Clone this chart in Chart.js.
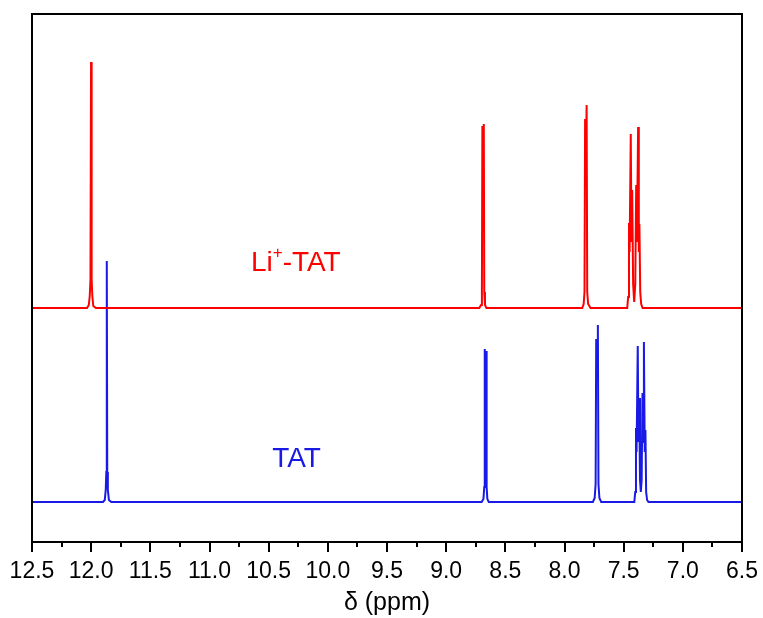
<!DOCTYPE html>
<html lang="en">
<head>
    <meta charset="UTF-8">
    <title>1H NMR: TAT and Li+-TAT</title>
    <style>
body {
    margin: 0;
    padding: 0;
    background-color: #fff;
}

#chart-container {
    width: 763px;
    height: 618px;
    position: relative;
}
    </style>
</head>
<body>
    <div id="chart-container">
        <canvas id="nmrChart"></canvas>
    </div>

    <script src="https://cdn.jsdelivr.net/npm/chart.js"></script>
    <script>
        // Li+-TAT spectrum (upper trace): chemical shift (ppm) and intensity
        const liTatPpm = [12.5, 12.10, 12.035, 12.02, 12.012, 12.006, 12.001, 11.996, 11.99, 11.982, 11.96,
            8.72, 8.705, 8.698, 8.694, 8.688, 8.682, 8.678, 8.672, 8.66,
            7.85, 7.838, 7.831, 7.826, 7.819, 7.813, 7.808, 7.800, 7.78,
            7.47, 7.462, 7.455, 7.450, 7.440, 7.434, 7.428, 7.420, 7.411, 7.402, 7.394, 7.388, 7.378,
            7.372, 7.367, 7.360, 7.352, 7.34, 6.5];
        const liTatInt = [234, 234, 234, 237, 246, 262, 480, 262, 246, 236, 234,
            234, 237, 250, 416, 360, 418, 250, 237, 234,
            234, 238, 250, 423, 380, 437, 250, 238, 234,
            234, 245, 319, 290, 408, 300, 352, 258, 240, 258, 357, 300, 415,
            290, 318, 250, 238, 234, 234];

        // TAT spectrum (lower trace)
        const tatPpm = [12.5, 11.90, 11.885, 11.877, 11.872, 11.868, 11.864, 11.859, 11.85, 11.83,
            8.70, 8.685, 8.678, 8.674, 8.668, 8.662, 8.658, 8.652, 8.64,
            7.76, 7.745, 7.737, 7.732, 7.725, 7.718, 7.713, 7.705, 7.69,
            7.41, 7.402, 7.396, 7.391, 7.381, 7.375, 7.369, 7.362, 7.355, 7.348, 7.341, 7.335, 7.329,
            7.322, 7.316, 7.310, 7.302, 7.29, 6.5];
        const tatInt = [40, 40, 42, 52, 70, 281, 70, 52, 42, 40,
            40, 43, 55, 193, 160, 191, 55, 43, 40,
            40, 44, 58, 203, 170, 217, 58, 44, 40,
            40, 50, 114, 90, 196, 100, 144, 62, 50, 62, 149, 100, 200,
            90, 112, 50, 42, 40, 40];

        // x axis ticks
        const xMin = 6.5;
        const xMax = 12.5;
        const majorStep = 0.5;
        const minorStep = 0.25;

        // Trace labels, placed in data units
        const traceLabels = [
            { name: 'Li-TAT', ppm: 10.65, y: 279, color: '#ff0000' },
            { name: 'TAT', ppm: 10.47, y: 83, color: '#1a1ae6' }
        ];

        const FONT = "'Liberation Sans', Arial, sans-serif";

        function toPoints(xs, ys) {
            return xs.map((x, i) => ({ x: x, y: ys[i] }));
        }

        // Draws the box, outward ticks and trace labels
        const framePlugin = {
            id: 'frame',
            afterDraw(chart) {
                const ctx = chart.ctx;
                const area = chart.chartArea;
                const xs = chart.scales.x;
                ctx.save();
                ctx.strokeStyle = '#000';
                ctx.lineWidth = 2;
                ctx.strokeRect(area.left, area.top, area.right - area.left, area.bottom - area.top);

                ctx.beginPath();
                for (let v = xMin; v <= xMax + 1e-9; v += minorStep) {
                    const px = Math.round(xs.getPixelForValue(v));
                    const major = Math.abs(v / majorStep - Math.round(v / majorStep)) < 1e-6;
                    ctx.moveTo(px, area.bottom);
                    ctx.lineTo(px, area.bottom + (major ? 10 : 5));
                }
                ctx.stroke();

                const ys = chart.scales.y;
                ctx.textBaseline = 'middle';
                ctx.textAlign = 'left';
                traceLabels.forEach(lab => {
                    const px = xs.getPixelForValue(lab.ppm);
                    const py = ys.getPixelForValue(lab.y);
                    ctx.fillStyle = lab.color;
                    ctx.font = '28px ' + FONT;
                    if (lab.name === 'Li-TAT') {
                        ctx.fillText('Li', px, py);
                        let w = ctx.measureText('Li').width;
                        ctx.font = '17px ' + FONT;
                        ctx.fillText('+', px + w, py - 10);
                        w += ctx.measureText('+').width;
                        ctx.font = '28px ' + FONT;
                        ctx.fillText('-TAT', px + w, py);
                    } else {
                        ctx.fillText(lab.name, px, py);
                    }
                });
                ctx.restore();
            }
        };

        const ctx = document.getElementById('nmrChart').getContext('2d');
        const chart = new Chart(ctx, {
            type: 'scatter',
            data: {
                datasets: [
                    {
                        label: 'Li+-TAT',
                        data: toPoints(liTatPpm, liTatInt),
                        showLine: true,
                        borderColor: '#ff0000',
                        borderWidth: 2,
                        pointRadius: 0,
                        tension: 0
                    },
                    {
                        label: 'TAT',
                        data: toPoints(tatPpm, tatInt),
                        showLine: true,
                        borderColor: '#1a1ae6',
                        borderWidth: 2,
                        pointRadius: 0,
                        tension: 0
                    }
                ]
            },
            options: {
                responsive: true,
                maintainAspectRatio: false,
                animation: false,
                layout: {
                    padding: { left: 32, right: 21, top: 14, bottom: 0 }
                },
                plugins: {
                    legend: { display: false },
                    tooltip: { enabled: false }
                },
                scales: {
                    x: {
                        type: 'linear',
                        reverse: true,
                        min: xMin,
                        max: xMax,
                        grid: { display: false, drawTicks: false },
                        border: { display: false },
                        ticks: {
                            stepSize: majorStep,
                            padding: 16,
                            color: '#000',
                            font: { family: FONT, size: 23 },
                            callback: v => v.toFixed(1)
                        },
                        title: {
                            display: true,
                            text: 'δ (ppm)',
                            color: '#000',
                            font: { family: FONT, size: 25 },
                            padding: { top: 6, bottom: 0 }
                        },
                        afterFit(scale) {
                            scale.height = 76;
                            scale.paddingLeft = 0;
                            scale.paddingRight = 0;
                        }
                    },
                    y: {
                        display: false,
                        min: 0,
                        max: 528
                    }
                }
            },
            plugins: [framePlugin]
        });
    </script>
</body>
</html>
